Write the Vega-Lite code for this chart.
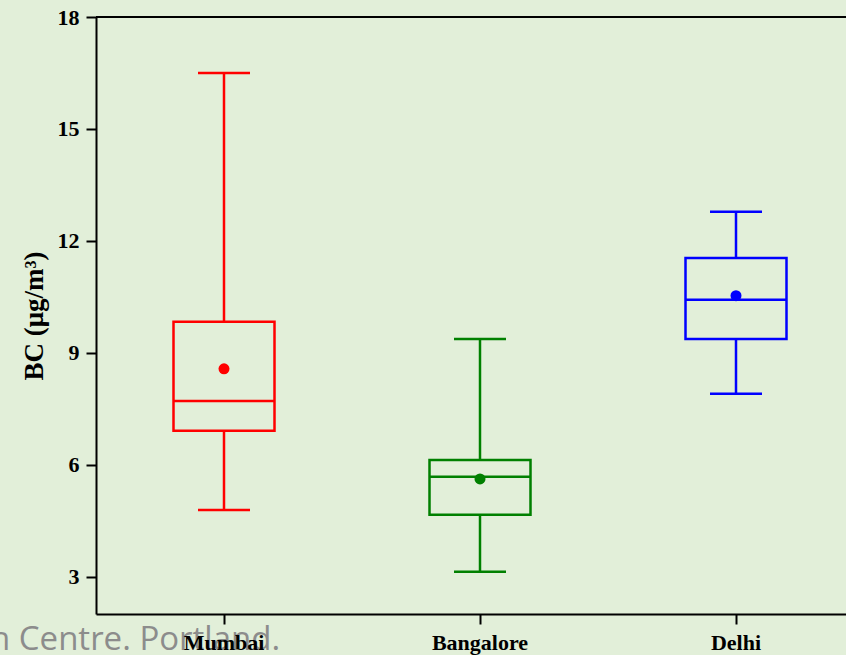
{
  "$schema": "https://vega.github.io/schema/vega-lite/v6.json",
  "width": 750,
  "height": 597,
  "autosize": {"type": "none"},
  "padding": {"left": 96, "top": 17, "right": 0, "bottom": 41},
  "background": "#e2efd9",
  "config": {
    "view": {"stroke": null},
    "axis": {
      "labelFont": "Liberation Serif",
      "labelFontWeight": "bold",
      "labelFontSize": 22,
      "labelColor": "#000000",
      "titleFont": "Liberation Serif",
      "titleFontWeight": "bold",
      "titleColor": "#000000",
      "domainColor": "#000000",
      "domainWidth": 2,
      "tickColor": "#000000",
      "tickWidth": 2,
      "tickSize": 10,
      "grid": false
    }
  },
  "title": {
    "text": "n Centre. Portland.",
    "orient": "bottom",
    "anchor": "start",
    "frame": "group",
    "font": "Open Sans",
    "fontSize": 33,
    "fontWeight": "normal",
    "color": "#8c8c8c",
    "baseline": "alphabetic",
    "offset": 0,
    "dx": -106,
    "dy": -3,
    "zindex": 0
  },
  "data": {
    "values": [
      {"city": "Mumbai", "low": 4.79, "q1": 6.91, "median": 7.71, "q3": 9.83, "high": 16.5, "mean": 8.57},
      {"city": "Bangalore", "low": 3.13, "q1": 4.66, "median": 5.68, "q3": 6.13, "high": 9.37, "mean": 5.62},
      {"city": "Delhi", "low": 7.9, "q1": 9.37, "median": 10.42, "q3": 11.54, "high": 12.78, "mean": 10.53}
    ]
  },
  "layer": [
    {
      "encoding": {
        "x": {
          "field": "city",
          "type": "nominal",
          "sort": ["Mumbai", "Bangalore", "Delhi"],
          "scale": {"range": [0, 768], "paddingInner": 0, "paddingOuter": 0},
          "axis": {"title": null, "labelAngle": 0, "labelPadding": 8, "zindex": 1}
        },
        "color": {
          "field": "city",
          "type": "nominal",
          "scale": {"domain": ["Mumbai", "Bangalore", "Delhi"], "range": ["#ff0000", "#008000", "#0000ff"]},
          "legend": null
        }
      },
      "layer": [
        {
          "mark": {"type": "rule", "strokeWidth": 2.5},
          "encoding": {
            "y": {"field": "low", "type": "quantitative", "scale": {"domain": [2, 18], "nice": false, "zero": false},
              "axis": {"values": [3, 6, 9, 12, 15, 18], "title": "BC (μg/m³)", "titleFontSize": 27, "titlePadding": 9, "labelPadding": 7, "zindex": 1}},
            "y2": {"field": "q1"}
          }
        },
        {
          "mark": {"type": "rule", "strokeWidth": 2.5},
          "encoding": {
            "y": {"field": "q3", "type": "quantitative"},
            "y2": {"field": "high"}
          }
        },
        {
          "mark": {"type": "bar", "filled": false, "size": 101, "strokeWidth": 2.5, "opacity": 1},
          "encoding": {
            "y": {"field": "q1", "type": "quantitative"},
            "y2": {"field": "q3"}
          }
        },
        {
          "mark": {"type": "tick", "size": 52, "thickness": 2.5, "opacity": 1},
          "encoding": {"y": {"field": "low", "type": "quantitative"}}
        },
        {
          "mark": {"type": "tick", "size": 52, "thickness": 2.5, "opacity": 1},
          "encoding": {"y": {"field": "high", "type": "quantitative"}}
        },
        {
          "mark": {"type": "tick", "size": 102, "thickness": 2.5, "opacity": 1},
          "encoding": {"y": {"field": "median", "type": "quantitative"}}
        },
        {
          "mark": {"type": "point", "filled": true, "shape": "circle", "size": 121, "opacity": 1},
          "encoding": {"y": {"field": "mean", "type": "quantitative"}}
        }
      ]
    },
    {
      "data": {"values": [{"top": 18}]},
      "mark": {"type": "rule", "strokeWidth": 2, "color": "#000000"},
      "encoding": {"y": {"field": "top", "type": "quantitative"}}
    }
  ]
}
